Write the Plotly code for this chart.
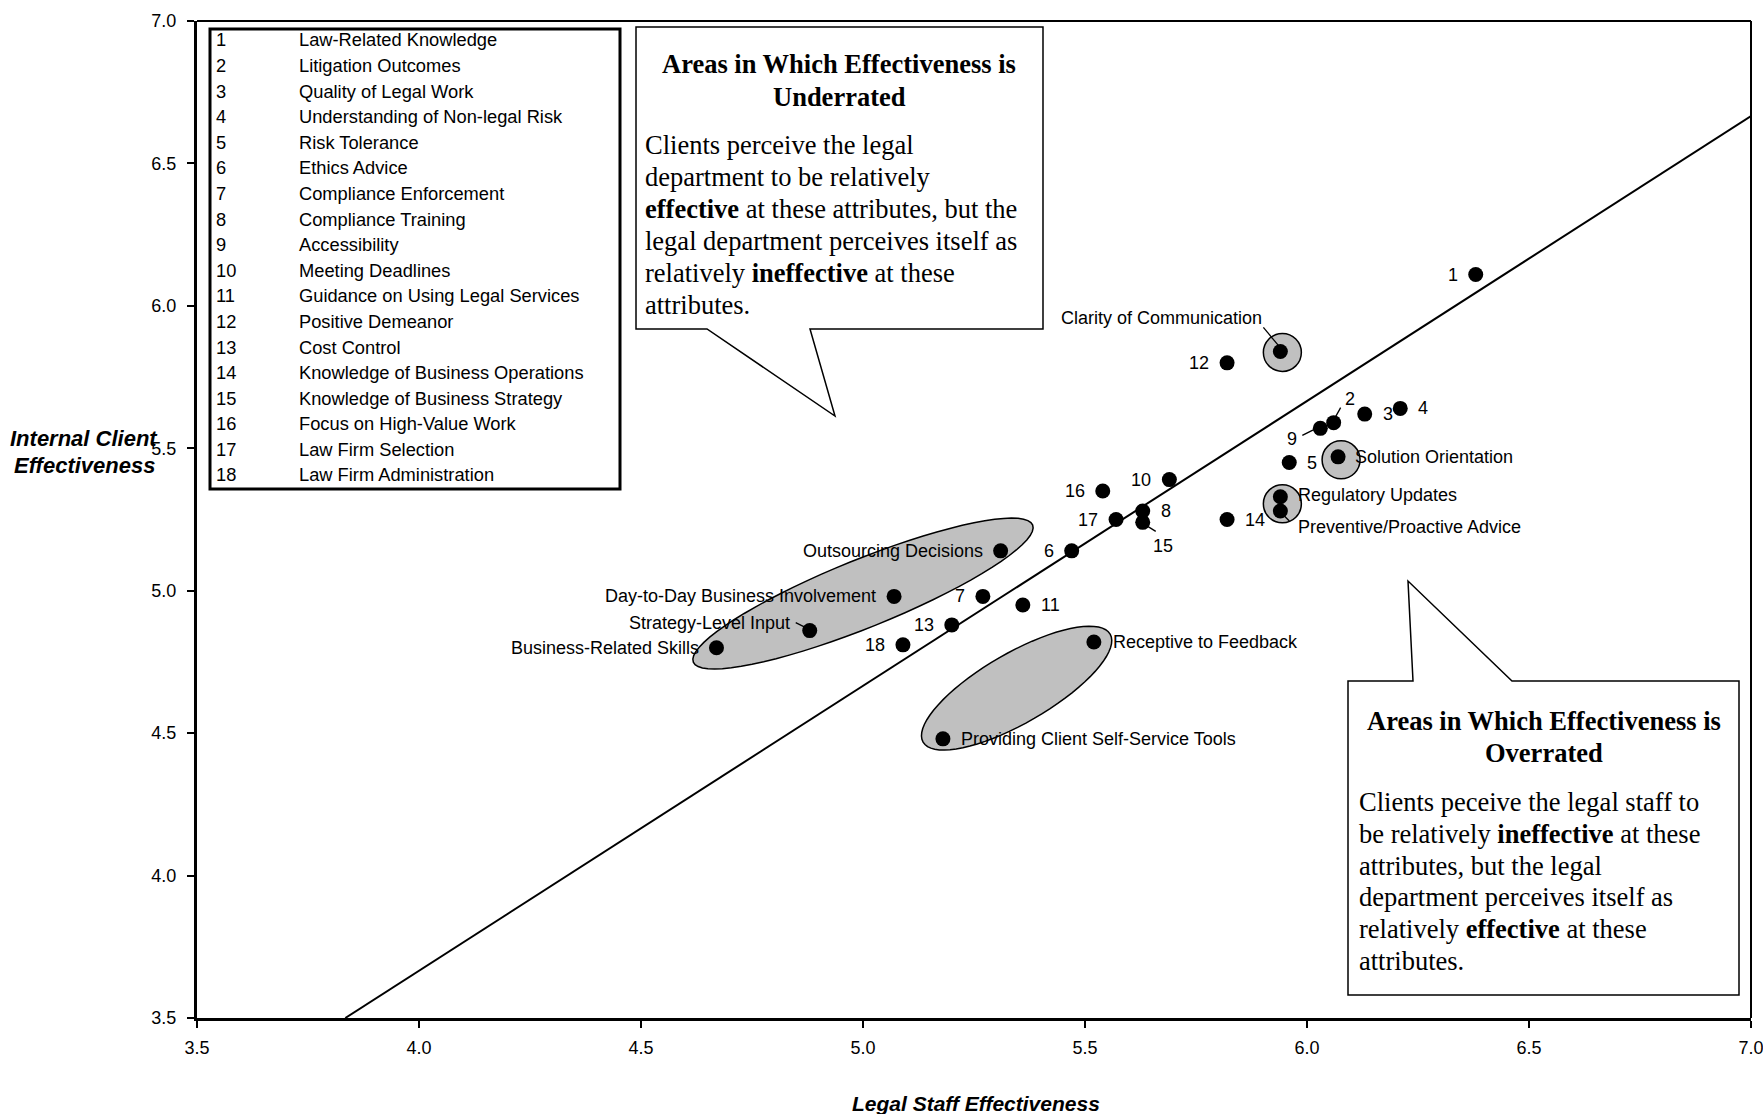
import math
import plotly.graph_objects as go

# ---------------- data ----------------
attr_ids = ["1", "2", "3", "4", "5", "6", "7", "8", "9", "10",
            "11", "12", "13", "14", "15", "16", "17", "18"]
attr_names = ["Law-Related Knowledge", "Litigation Outcomes", "Quality of Legal Work",
              "Understanding of Non-legal Risk", "Risk Tolerance", "Ethics Advice",
              "Compliance Enforcement", "Compliance Training", "Accessibility",
              "Meeting Deadlines", "Guidance on Using Legal Services", "Positive Demeanor",
              "Cost Control", "Knowledge of Business Operations", "Knowledge of Business Strategy",
              "Focus on High-Value Work", "Law Firm Selection", "Law Firm Administration"]
attr_x = [6.38, 6.06, 6.13, 6.21, 5.96, 5.47, 5.27, 5.63, 6.03, 5.69,
          5.36, 5.82, 5.20, 5.82, 5.63, 5.54, 5.57, 5.09]
attr_y = [6.11, 5.59, 5.62, 5.64, 5.45, 5.14, 4.98, 5.28, 5.57, 5.39,
          4.95, 5.80, 4.88, 5.25, 5.24, 5.35, 5.25, 4.81]

named_labels = ["Clarity of Communication", "Solution Orientation", "Regulatory Updates",
                "Preventive/Proactive Advice", "Outsourcing Decisions",
                "Day-to-Day Business Involvement", "Strategy-Level Input",
                "Business-Related Skills", "Receptive to Feedback",
                "Providing Client Self-Service Tools"]
named_x = [5.94, 6.07, 5.94, 5.94, 5.31, 5.07, 4.88, 4.67, 5.52, 5.18]
named_y = [5.84, 5.47, 5.33, 5.28, 5.14, 4.98, 4.86, 4.80, 4.82, 4.48]

trend_x = [3.834, 7.0]
trend_y = [3.5, 6.666]

tick_vals = [3.5, 4.0, 4.5, 5.0, 5.5, 6.0, 6.5, 7.0]
x_title = "Legal Staff Effectiveness"
y_title_lines = ["Internal Client", "Effectiveness"]

under_title = ["Areas in Which Effectiveness is", "Underrated"]
under_body = ["Clients perceive the legal",
              "department to be relatively",
              "<b>effective</b> at these attributes, but the",
              "legal department perceives itself as",
              "relatively <b>ineffective</b> at these",
              "attributes."]
over_title = ["Areas in Which Effectiveness is", "Overrated"]
over_body = ["Clients peceive the legal staff to",
             "be relatively <b>ineffective</b> at these",
             "attributes, but the legal",
             "department perceives itself as",
             "relatively <b>effective</b> at these",
             "attributes."]

# ---------------- layout geometry (page pixels) ----------------
W, H = 1763, 1114
PL, PR, PT, PB = 197, 1751, 21, 1018   # plot area
SANS = "Liberation Sans, Arial, sans-serif"
SERIF = "Liberation Serif, Times New Roman, serif"


def px(xp, yp):
    return (xp - PL) / (PR - PL), (PB - yp) / (PB - PT)


fig = go.Figure()

# trend line
fig.add_trace(go.Scatter(x=trend_x, y=trend_y, mode="lines",
                         line=dict(color="black", width=2), hoverinfo="skip",
                         showlegend=False, cliponaxis=True))

# markers
fig.add_trace(go.Scatter(x=attr_x + named_x, y=attr_y + named_y, mode="markers",
                         marker=dict(color="black", size=15),
                         text=attr_ids + named_labels, hoverinfo="text",
                         showlegend=False, cliponaxis=False))

shapes = []
annotations = []


def ellipse_path(a, b, theta_deg, n=72):
    t = math.radians(theta_deg)
    pts = []
    for i in range(n):
        p = 2 * math.pi * i / n
        u, v = a * math.cos(p), b * math.sin(p)
        pts.append((u * math.cos(t) - v * math.sin(t), u * math.sin(t) + v * math.cos(t)))
    return "M " + " L ".join(f"{x:.2f},{y:.2f}" for x, y in pts) + " Z"


for cx, cy, a, b, th in [(5.0, 4.99, 183, 34, 22), (5.346, 4.658, 108, 35, 30)]:
    shapes.append(dict(type="path", xref="x", yref="y", xsizemode="pixel", ysizemode="pixel",
                       xanchor=cx, yanchor=cy, path=ellipse_path(a, b, th),
                       fillcolor="#C0C0C0", line=dict(color="black", width=1.5), layer="below"))

for name, dx, dy in [("Clarity of Communication", 2, -1), ("Solution Orientation", 3, -3)]:
    i = named_labels.index(name)
    shapes.append(dict(type="circle", xref="x", yref="y", xsizemode="pixel", ysizemode="pixel",
                       xanchor=named_x[i], yanchor=named_y[i],
                       x0=dx - 19, x1=dx + 19, y0=dy - 19, y1=dy + 19,
                       fillcolor="#C0C0C0", line=dict(color="black", width=1.5), layer="below"))
ir = named_labels.index("Regulatory Updates")
ip = named_labels.index("Preventive/Proactive Advice")
shapes.append(dict(type="circle", xref="x", yref="y", xsizemode="pixel", ysizemode="pixel",
                   xanchor=named_x[ir], yanchor=(named_y[ir] + named_y[ip]) / 2,
                   x0=-17, x1=21, y0=-19, y1=19,
                   fillcolor="#C0C0C0", line=dict(color="black", width=1.5), layer="below"))

# leader lines (pixel offsets, screen y down)
leaders = {"Clarity of Communication": (-17, -24, -2, -6),
           "2": (2, -6, 7, -15),
           "9": (-18, 7, -6, 1),
           "15": (5, 4, 13, 9),
           "Strategy-Level Input": (-14, -8, -4, -3),
           "Preventive/Proactive Advice": (4, 5, 9, 10)}
all_lab = attr_ids + named_labels
all_x = attr_x + named_x
all_y = attr_y + named_y
for lab, (x0, y0, x1, y1) in leaders.items():
    i = all_lab.index(lab)
    shapes.append(dict(type="line", xref="x", yref="y", xsizemode="pixel", ysizemode="pixel",
                       xanchor=all_x[i], yanchor=all_y[i], x0=x0, x1=x1, y0=-y0, y1=-y1,
                       line=dict(color="black", width=1.3)))

left = ("right", -16, 0)
right = ("left", 16, 0)
place = {"1": left, "12": left, "10": left, "16": left, "17": left, "6": left,
         "7": left, "13": left, "18": left,
         "3": right, "4": right, "5": right, "8": right, "14": right, "11": right,
         "2": ("center", 16, -24), "9": ("center", -28, 11), "15": ("center", 20, 24),
         "Clarity of Communication": ("right", -16, -33),
         "Solution Orientation": ("left", 15, 0),
         "Regulatory Updates": ("left", 16, -2),
         "Preventive/Proactive Advice": ("left", 16, 16),
         "Outsourcing Decisions": ("right", -16, 0),
         "Day-to-Day Business Involvement": ("right", -16, 0),
         "Strategy-Level Input": ("right", -18, -8),
         "Business-Related Skills": ("right", -15, 0),
         "Receptive to Feedback": ("left", 17, 0),
         "Providing Client Self-Service Tools": ("left", 16, 0)}
for lab, x, y in zip(all_lab, all_x, all_y):
    anc, xs, ys = place[lab]
    annotations.append(dict(x=x, y=y, xref="x", yref="y", text=lab, showarrow=False,
                            xanchor=anc, yanchor="middle", xshift=xs, yshift=-ys,
                            font=dict(family=SANS, size=18, color="black")))

# legend box
lx0, ly0 = px(210, 29)
lx1, ly1 = px(620, 489)
shapes.append(dict(type="rect", xref="paper", yref="paper", x0=lx0, y0=ly1, x1=lx1, y1=ly0,
                   fillcolor="white", line=dict(color="black", width=3), layer="above"))
for k, (num, name) in enumerate(zip(attr_ids, attr_names)):
    yy = 39.8 + 25.6 * k
    nx, ny = px(214, yy)
    tx, _ = px(297, yy)
    annotations.append(dict(x=nx, y=ny, xref="paper", yref="paper", text=num, showarrow=False,
                            xanchor="left", yanchor="middle",
                            font=dict(family=SANS, size=18.3, color="black")))
    annotations.append(dict(x=tx, y=ny, xref="paper", yref="paper", text=name, showarrow=False,
                            xanchor="left", yanchor="middle",
                            font=dict(family=SANS, size=18.3, color="black")))


def callout(pts):
    return "M " + " L ".join("{:.5f},{:.5f}".format(*px(a, b)) for a, b in pts) + " Z"


shapes.append(dict(type="path", xref="paper", yref="paper",
                   path=callout([(636, 27), (1043, 27), (1043, 329), (810, 329), (835, 416),
                                 (707, 329), (636, 329)]),
                   fillcolor="white", line=dict(color="black", width=1.5), layer="above"))
for k, t in enumerate(under_title):
    x, y = px(839, 64 + 33 * k)
    annotations.append(dict(x=x, y=y, xref="paper", yref="paper", text="<b>" + t + "</b>",
                            showarrow=False, xanchor="center", yanchor="middle",
                            font=dict(family=SERIF, size=26.5, color="black")))
for k, t in enumerate(under_body):
    x, y = px(643, 145 + 32 * k)
    annotations.append(dict(x=x, y=y, xref="paper", yref="paper", text=t,
                            showarrow=False, xanchor="left", yanchor="middle",
                            font=dict(family=SERIF, size=26.5, color="black")))

shapes.append(dict(type="path", xref="paper", yref="paper",
                   path=callout([(1348, 681), (1413, 681), (1408, 581), (1512, 681),
                                 (1739, 681), (1739, 995), (1348, 995)]),
                   fillcolor="white", line=dict(color="black", width=1.5), layer="above"))
for k, t in enumerate(over_title):
    x, y = px(1544, 721 + 32 * k)
    annotations.append(dict(x=x, y=y, xref="paper", yref="paper", text="<b>" + t + "</b>",
                            showarrow=False, xanchor="center", yanchor="middle",
                            font=dict(family=SERIF, size=26.5, color="black")))
for k, t in enumerate(over_body):
    x, y = px(1357, 802 + 31.8 * k)
    annotations.append(dict(x=x, y=y, xref="paper", yref="paper", text=t,
                            showarrow=False, xanchor="left", yanchor="middle",
                            font=dict(family=SERIF, size=26.5, color="black")))

shapes.append(dict(type="line", xref="paper", yref="paper", x0=0, x1=1, y0=1, y1=1,
                   line=dict(color="black", width=2)))
shapes.append(dict(type="line", xref="paper", yref="paper", x0=1, x1=1, y0=0, y1=1,
                   line=dict(color="black", width=2)))

for k, t in enumerate(y_title_lines):
    x, y = px(84, 439 + 26 * k)
    annotations.append(dict(x=x, y=y, xref="paper", yref="paper", text="<b><i>" + t + "</i></b>",
                            showarrow=False, xanchor="center", yanchor="middle",
                            font=dict(family=SANS, size=22, color="black")))
x, y = px(976, 1103)
annotations.append(dict(x=x, y=y, xref="paper", yref="paper", text="<b><i>" + x_title + "</i></b>",
                        showarrow=False, xanchor="center", yanchor="middle",
                        font=dict(family=SANS, size=21, color="black")))

axis_common = dict(showgrid=False, zeroline=False, showline=True, linecolor="black",
                   linewidth=3, ticks="outside", ticklen=7, tickwidth=2, tickcolor="black",
                   tickvals=tick_vals, tickformat=".1f", ticklabeloverflow="allow",
                   automargin=False,
                   tickfont=dict(family=SANS, size=18, color="black"))

fig.update_layout(
    width=W, height=H,
    margin=dict(l=PL, r=W - PR, t=PT, b=H - PB, pad=0, autoexpand=False),
    paper_bgcolor="white", plot_bgcolor="white",
    xaxis=dict(range=[3.5, 7.0], ticklabelstandoff=4, **axis_common),
    yaxis=dict(range=[3.5, 7.0], ticklabelstandoff=7, **axis_common),
    shapes=shapes, annotations=annotations, showlegend=False,
)

fig.write_html("out.html", config={"displayModeBar": False},
               post_script="document.body.style.margin='0';document.body.style.overflow='hidden';")
